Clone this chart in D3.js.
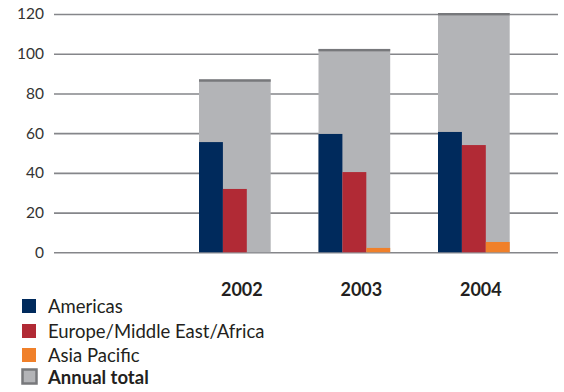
<!DOCTYPE html>
<html><head><meta charset="utf-8">
<script src="https://cdn.jsdelivr.net/npm/d3@7"></script>
<style>body{margin:0;background:#fff}svg{display:block}text{font-family:Lato,"Noto Sans",sans-serif}</style>
</head><body><svg id="c" width="564" height="392"></svg>
<script>
const years = ["2002","2003","2004"];
const americas = [55.5, 59.6, 60.6];
const emea = [31.9, 40.4, 54.0];
const asiaPacific = [0, 2.2, 5.2];
const annualTotal = [87.1, 102.4, 120.5];
const yTicks = [0,20,40,60,80,100,120];
const seriesNames = ["Americas","Europe/Middle East/Africa","Asia Pacific","Annual total"];
const colors = ["#002a5c","#b12a35","#f0802a","#b3b4b7"];

const svg = d3.select("#c");
const y = d3.scaleLinear().domain([0,120]).range([252.3,14]);
const x = d3.scaleBand().domain(years).range([175.1,533.6]).paddingInner(0.4).paddingOuter(0.2);
const sub = d3.scaleBand().domain([0,1,2]).range([0,x.bandwidth()]);

const ax = svg.append("g").attr("transform","translate(54,0)")
  .call(d3.axisRight(y).tickValues(yTicks).tickSize(504).tickFormat(""));
ax.select(".domain").remove();
ax.selectAll(".tick line").attr("stroke","#85868a").attr("stroke-width",1.6);
const lab = svg.append("g").attr("transform","translate(54,0)")
  .call(d3.axisLeft(y).tickValues(yTicks).tickSize(0).tickPadding(10));
lab.select(".domain").remove();
lab.selectAll("text").attr("font-size",15.5).attr("fill","#333").style("font-family","Lato");

svg.selectAll("rect.tot").data(years).enter().append("rect")
  .attr("x",d=>x(d)).attr("width",x.bandwidth())
  .attr("y",(d,i)=>y(annualTotal[i])).attr("height",(d,i)=>y(0)-y(annualTotal[i]))
  .attr("fill",colors[3]);
svg.selectAll("rect.cap").data(years).enter().append("rect")
  .attr("x",d=>x(d)).attr("width",x.bandwidth())
  .attr("y",(d,i)=>y(annualTotal[i])).attr("height",2.4)
  .attr("fill","#77787b");
const series=[americas,emea,asiaPacific];
series.forEach((vals,si)=>{
  svg.selectAll("rect.s"+si).data(years).enter().append("rect")
    .attr("x",d=>x(d)+sub(si)).attr("width",sub.bandwidth())
    .attr("y",(d,i)=>y(vals[i])).attr("height",(d,i)=>y(0)-y(vals[i]))
    .attr("fill",colors[si]);
});
svg.selectAll("text.yr").data(years).enter().append("text")
  .attr("x",d=>x(d)+x.bandwidth()/2+7).attr("y",296)
  .attr("text-anchor","middle").attr("font-size",18).attr("font-weight","bold").attr("fill","#231f20")
  .text(d=>d);
const leg = svg.append("g");
const ly=[306,331,355,377];
seriesNames.forEach((n,i)=>{
  if(i<3){
    leg.append("rect").attr("x",22).attr("y",ly[i]-7).attr("width",14).attr("height",14).attr("fill",colors[i]);
  } else {
    leg.append("rect").attr("x",22.5).attr("y",ly[i]-7.5).attr("width",14).attr("height",14)
      .attr("fill",colors[3]).attr("stroke","#77787b").attr("stroke-width",2.5);
  }
  leg.append("text").attr("x",48).attr("y",ly[i]+6.5).attr("font-size",18.5)
    .attr("font-weight",i==3?"bold":"normal").attr("fill","#231f20").text(n);
});
</script></body></html>
